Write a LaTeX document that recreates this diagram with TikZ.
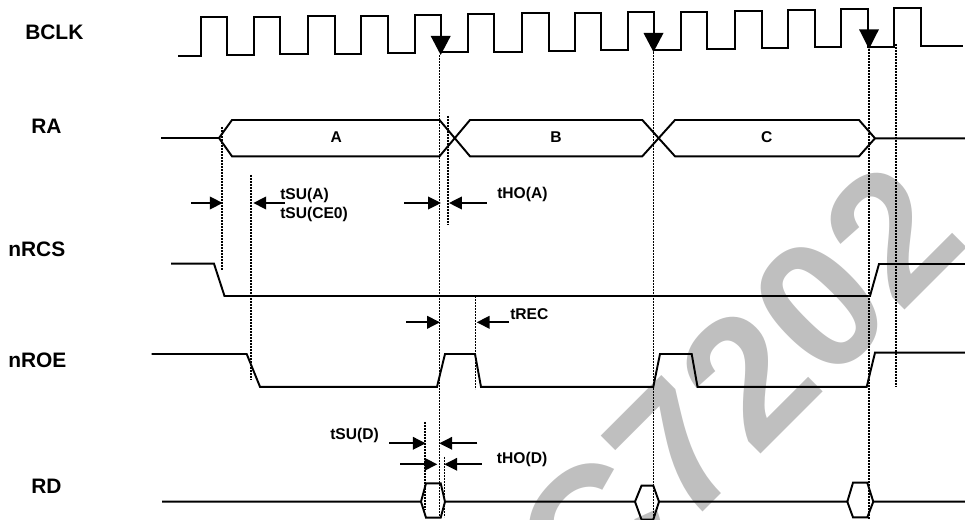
\documentclass[tikz,border=0pt]{standalone}
\usepackage{fontspec}
\setmainfont{Liberation Sans}
\usetikzlibrary{arrows.meta}
\tikzset{
  sig/.style={line width=1.45pt,black,line join=miter},
  clk/.style={line width=1.5pt,black},
  guide/.style={line width=1.25pt,black,dash pattern=on 1.2pt off 1.05pt},
  meas/.style={line width=1.3pt,black,-{Triangle[length=9.6pt,width=9.4pt]}},
  head/.style={fill=black,draw=none},
  biglabel/.style={font=\fontsize{15.7}{18}\selectfont\bfseries,inner sep=0pt,anchor=west},
  smalllabel/.style={font=\fontsize{11.7}{14}\selectfont\bfseries,inner sep=0pt,anchor=west},
  midlabel/.style={font=\fontsize{11.7}{14}\selectfont\bfseries,inner sep=0pt},
}
\begin{document}
\begin{tikzpicture}[x=0.75pt,y=-0.75pt]
\useasboundingbox (0,0) rectangle (965,520);
\begin{scope}
\clip (0,0) rectangle (965,520);
\node[rotate=45,text=black!25,inner sep=0pt,anchor=base,font=\fontsize{137}{137}\selectfont\bfseries] (wm) at (782,433) {C7202};
\end{scope}
% guides
\draw[guide] (221.7,127) -- (221.7,270.7);
\draw[guide] (250.7,175) -- (250.7,380);
\draw[guide] (439.5,55) -- (439.5,517);
\draw[guide] (448.3,116) -- (448.3,225);
\draw[guide] (475.5,296) -- (475.5,389);
\draw[guide] (425.2,422) -- (425.2,510);
\draw[guide] (444.5,457) -- (444.5,517);
\draw[guide] (653.5,52) -- (653.5,520);
\draw[guide] (869,49) -- (869,520);
\draw[guide] (895.7,44) -- (895.7,387);
% BCLK
\draw[clk] (178,56) -| (200.5,17.5) -| (227,55) -| (253.5,17) -| (280,54.3) -| (307.5,16) -| (334.7,53.7) -| (361,15.7) -| (388,53) -| (415,14.7) -| (441,52) -| (467.7,14) -| (494,51.7) -| (521.7,13.3) -| (548.7,51) -| (574.7,13) -| (601.3,50) -| (627.7,12.3) -| (653.7,49.7) -| (681,11.7) -| (707.3,48.7) -| (735,11) -| (762,48.3) -| (788,10) -| (815,47) -| (841.3,9) -| (868.3,46.7) -| (894.3,8.3) -| (921.3,46) -- (963,46);
\fill[head] (430.7,36) -- (450.7,36) -- (440.7,55) -- cycle;
\fill[head] (643.5,33) -- (663.5,33) -- (653.5,52) -- cycle;
\fill[head] (859,29.3) -- (879,29.3) -- (869,49) -- cycle;
% RA
\draw[sig] (161,138) -- (219,138) -- (232,120) -- (439.5,120) -- (470,156.3) -- (642.3,156.3) -- (675,120) -- (859,120) -- (875,138.3) -- (965,138.3);
\draw[sig] (219,138) -- (232,156.3) -- (439.5,156.3) -- (470,120) -- (642.3,120) -- (675,156.3) -- (859,156.3) -- (875,138.3);
% nRCS
\draw[sig] (171,263.7) -- (214,263.7) -- (224.5,296) -- (870,296) -- (879,264) -- (965,264);
% nROE
\draw[sig] (151.7,354) -- (246.7,354) -- (260,386.8) -- (437,386.8) -- (445,354) -- (475,354) -- (481,386.8) -- (653.3,386.8) -- (660,354) -- (691.7,354) -- (697.5,386.8) -- (866.7,386.8) -- (875,352.7) -- (965,352.7);
% RD
\draw[sig] (162,501.7) -- (421,501.7) -- (426,483.3) -- (440.7,483.3) -- (445,501.7) -- (635,501.7) -- (641.5,485.7) -- (653.3,485.7) -- (659,501.7) -- (847.3,501.7) -- (853,482.7) -- (867.3,482.7) -- (873.3,501.7) -- (965,501.7);
\draw[sig] (421,501.7) -- (426,517.7) -- (440.7,517.7) -- (445,501.7);
\draw[sig] (635,501.7) -- (641.5,519.5) -- (653.3,519.5) -- (659,501.7);
\draw[sig] (847.3,501.7) -- (853,517.3) -- (867.3,517.3) -- (873.3,501.7);
% measure arrows
\draw[meas] (191,203) -- (222.7,203);
\draw[meas] (285,203) -- (253.3,203);
\draw[meas] (404,203) -- (441,203);
\draw[meas] (486.7,203) -- (449,203);
\draw[meas] (406,322.3) -- (440,322.3);
\draw[meas] (509,322.3) -- (476.7,322.3);
\draw[meas] (389,443.3) -- (425.7,443.3);
\draw[meas] (477.3,443.3) -- (439.3,443.3);
\draw[meas] (400.3,464.3) -- (437.3,464.3);
\draw[meas] (481.7,464.3) -- (444.3,464.3);
% labels
\node[biglabel] (bclk) at (25,32.5) {BCLK};
\node[biglabel] (ra) at (31,126.7) {RA};
\node[biglabel] (nrcs) at (8,249) {nRCS};
\node[biglabel] (nroe) at (8,360.7) {nROE};
\node[biglabel] (rd) at (31,486.7) {RD};
\node[midlabel] (a) at (336.3,137) {A};
\node[midlabel] (b) at (556,137) {B};
\node[midlabel] (c) at (766.7,137) {C};
\node[smalllabel] (tsua) at (280,195) {tSU(A)};
\node[smalllabel] (tsuc) at (280,214) {tSU(CE0)};
\node[smalllabel] (thoa) at (497,194.3) {tHO(A)};
\node[smalllabel] (trec) at (510,314.3) {tREC};
\node[smalllabel] (tsud) at (330,435.7) {tSU(D)};
\node[smalllabel] (thod) at (496.7,459) {tHO(D)};
\end{tikzpicture}
\end{document}
